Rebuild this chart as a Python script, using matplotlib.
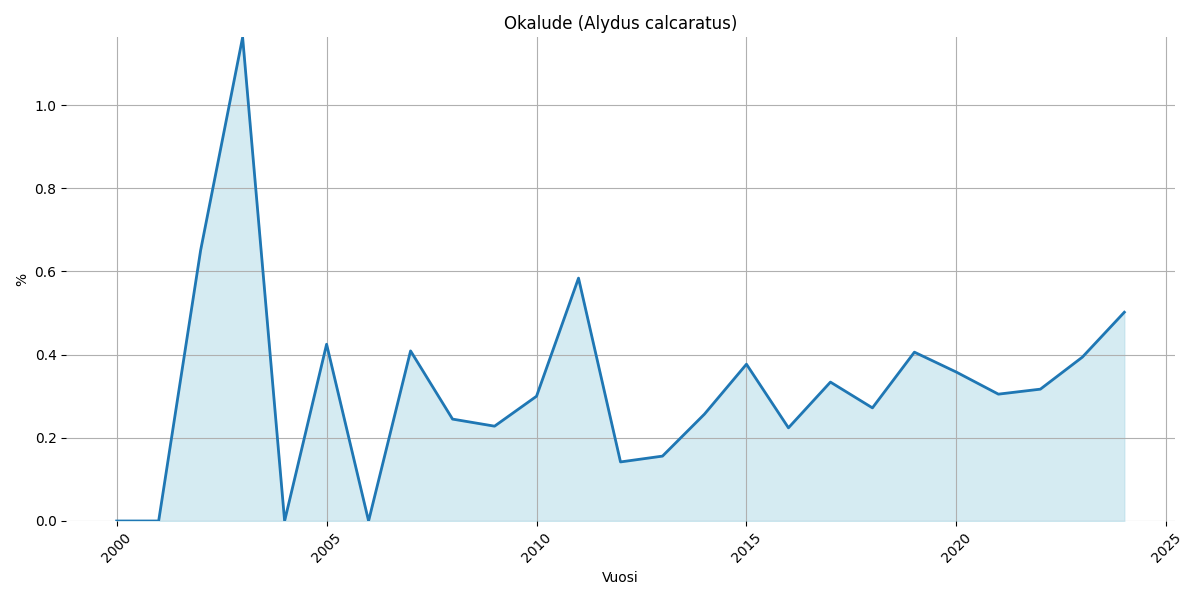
import numpy as np
import matplotlib.pyplot as plt

years = np.arange(2000, 2025)
pct = [0.0, 0.0, 0.651, 1.163, 0.0, 0.425, 0.0, 0.409, 0.245, 0.228,
       0.300, 0.584, 0.142, 0.156, 0.257, 0.377, 0.224, 0.334, 0.272, 0.406,
       0.358, 0.305, 0.317, 0.394, 0.502]

fig, ax = plt.subplots(figsize=(12, 6), dpi=100)
ax.fill_between(years, pct, color='lightblue', alpha=0.5)
ax.plot(years, pct, color='#1f77b4', linewidth=2)
ax.set_ylim(0, max(pct))
ax.set_title('Okalude (Alydus calcaratus)')
ax.set_xlabel('Vuosi')
ax.set_ylabel('%')
ax.grid(True)
for s in ax.spines.values():
    s.set_visible(False)
plt.xticks(rotation=45)
plt.tight_layout()
plt.savefig('out.png')
